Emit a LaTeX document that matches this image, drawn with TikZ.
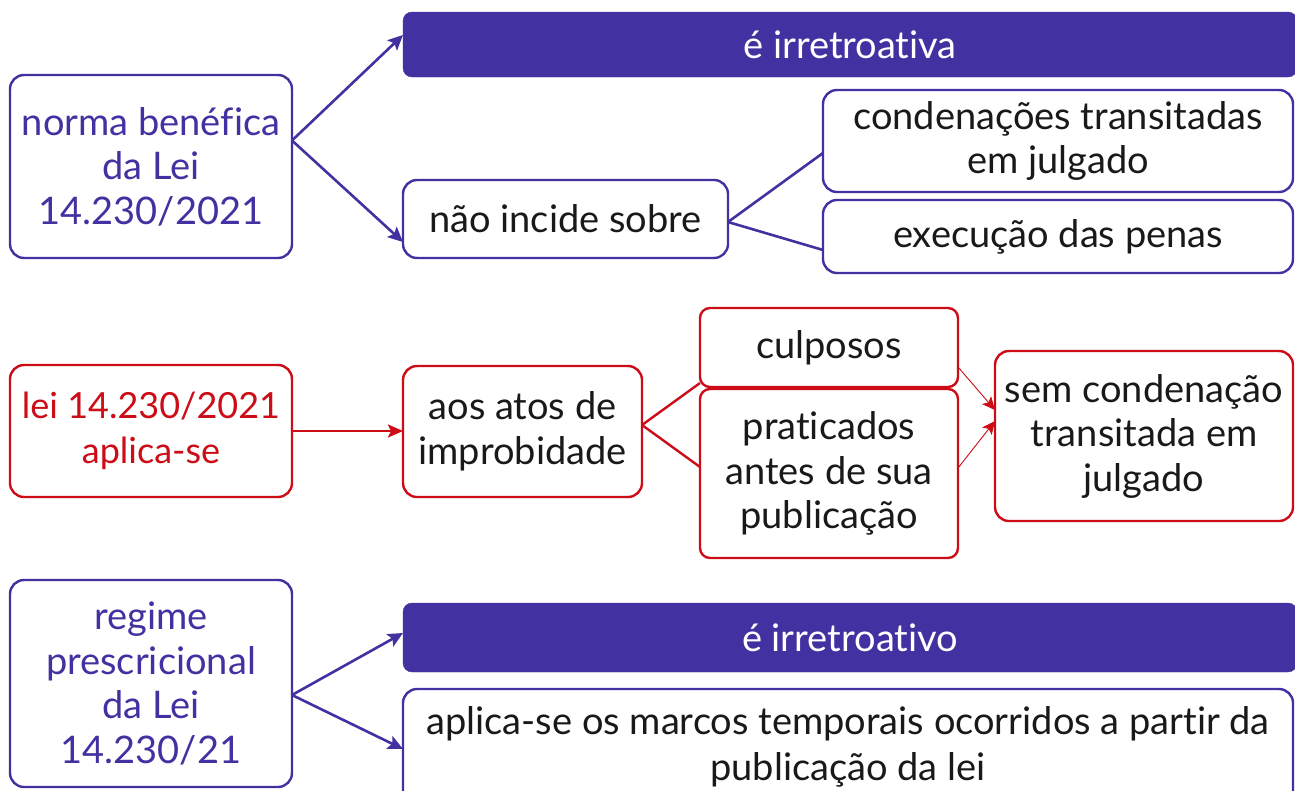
\documentclass[tikz,border=0pt]{standalone}
\usepackage{fontspec}
\setmainfont{Lato}[Ligatures=NoCommon]
\usetikzlibrary{arrows.meta}
\definecolor{purp}{RGB}{66,49,160}
\definecolor{redc}{RGB}{204,12,22}
\definecolor{txt}{RGB}{25,25,25}
\begin{document}
\begin{tikzpicture}[x=1pt,y=-1pt,
  every node/.style={inner sep=0pt, outer sep=0pt, align=center, font=\fontsize{38}{44.5}\selectfont},
  pbox/.style={draw=purp, line width=2.4pt, rounded corners=14pt, fill=white},
  rbox/.style={draw=redc, line width=2.4pt, rounded corners=14pt, fill=white},
  hbox/.style={draw=purp, fill=purp, rounded corners=9pt, text=white},
  parrow/.style={draw=purp, line width=2.6pt, -{Stealth[length=15pt,width=14pt,inset=3pt]}},
  pline/.style={draw=purp, line width=2.6pt},
  rarrow/.style={draw=redc, line width=2.4pt, -{Stealth[length=15pt,width=13pt,inset=3pt]}},
  rline/.style={draw=redc, line width=2.4pt},
  rthin/.style={draw=redc, line width=0.9pt, -{Stealth[length=13pt,width=12pt,inset=3pt]}}
]
\useasboundingbox (0,0) rectangle (1295,790);
\clip (0,0) rectangle (1295,790);

% top group
\node[pbox, text=purp, minimum width=282pt, minimum height=183pt] (A) at (151,166.5) {norma benéfica\\da Lei\\14.230/2021};
\node[hbox, minimum width=894pt, minimum height=65pt] (H1) at (850,44.5) {é irretroativa};
\node[pbox, text=txt, minimum width=325pt, minimum height=78pt] (B) at (565.5,219) {não incide sobre};
\node[pbox, text=txt, minimum width=470pt, minimum height=102pt] (C) at (1058,141) {condenações transitadas\\em julgado};
\node[pbox, text=txt, minimum width=470pt, minimum height=73pt] (D) at (1058,236.5) {execução das penas};

\draw[parrow] ([yshift=26pt]A.east) -- ([yshift=9.5pt]H1.west);
\draw[parrow] ([yshift=26pt]A.east) -- ([yshift=-23pt]B.west);
\draw[pline] ([yshift=-3pt]B.east) -- ([yshift=-12pt]C.west);
\draw[pline] ([yshift=-3pt]B.east) -- ([yshift=-13.5pt]D.west);

% middle group
\node[rbox, text=redc, minimum width=282pt, minimum height=132pt, font=\fontsize{36}{44.5}\selectfont] (E) at (151,431) {lei 14.230/2021\\aplica-se};
\node[rbox, text=txt, minimum width=239pt, minimum height=131pt] (F) at (522.5,431.5) {aos atos de\\improbidade};
\node[rbox, text=txt, rounded corners=10pt, minimum width=258pt, minimum height=79pt] (G) at (829,347.5) {culposos};
\node[rbox, text=txt, rounded corners=10pt, minimum width=258pt, minimum height=169pt] (P) at (829,473.5) {praticados\\antes de sua\\publicação};
\node[rbox, text=txt, minimum width=298pt, minimum height=170pt] (I) at (1144,436) {sem condenação\\transitada em\\julgado};

\draw[rarrow] (E.east) -- (E.east -| F.west);
\draw[rline] ([yshift=6.5pt]F.east) -- ([yshift=-35.5pt]G.west);
\draw[rline] ([yshift=6.5pt]F.east) -- ([yshift=6.5pt]P.west);
\draw[rthin] ([yshift=-19.5pt]G.east) -- ([yshift=26pt]I.west);
\draw[rthin] ([yshift=5.5pt]P.east) -- ([yshift=15pt]I.west);

% bottom group
\node[pbox, text=purp, minimum width=282pt, minimum height=207pt] (J) at (151,683.5) {regime\\prescricional\\da Lei\\14.230/21};
\node[hbox, minimum width=894pt, minimum height=69pt] (H2) at (850,637.5) {é irretroativo};
\node[pbox, text=txt, minimum width=890pt, minimum height=116pt, font=\fontsize{38}{46}\selectfont] (K) at (848,747) {aplica-se os marcos temporais ocorridos a partir da\\publicação da lei};

\draw[parrow] ([yshift=-11.5pt]J.east) -- ([yshift=4.5pt]H2.west);
\draw[parrow] ([yshift=-11.5pt]J.east) -- ([yshift=-2pt]K.west);
\end{tikzpicture}
\end{document}
